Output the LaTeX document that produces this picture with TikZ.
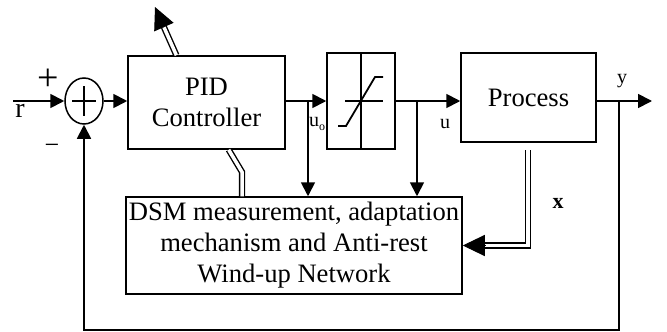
\documentclass[tikz,border=0pt]{standalone}
\usepackage{fontspec}
\setmainfont{Liberation Serif}
\usetikzlibrary{arrows.meta,shapes.geometric,calc}
\begin{document}
\begin{tikzpicture}[x=1pt,y=-1pt,
  blk/.style={draw, line width=1.5pt, inner sep=0pt, align=center, font=\fontsize{26.6}{31}\selectfont},
  sig/.style={line width=1.8pt},
  arr/.style={sig, -{Triangle[length=14pt,width=14pt]}},
  dbl/.style={double, double distance=3.5pt, line width=1.4pt},
  bighead/.style={line width=1pt, -{Triangle[length=22pt,width=21pt]}},
  lbl/.style={inner sep=0pt, font=\fontsize{20}{20}\selectfont}]
\useasboundingbox (0,0) rectangle (667,332);
% blocks
\node[blk, ellipse, minimum width=38pt, minimum height=46pt] (sum) at (84,101) {};
\node[blk, minimum width=157pt, minimum height=93pt] (pid) at (206.5,102.5) {PID\\Controller};
\node[blk, minimum width=68pt, minimum height=96pt] (sat) at (361,101) {};
\node[blk, minimum width=135pt, minimum height=89pt] (proc) at (528.5,97.5) {Process};
\node[blk, minimum width=336pt, minimum height=97pt] (dsm) at (294,245.5) {DSM measurement, adaptation\\mechanism and Anti-rest\\Wind-up Network};
% sum symbol
\draw[sig] ($(sum.center)+(-12,0)$) -- ($(sum.center)+(12,0)$);
\draw[sig] ($(sum.center)+(0,-15)$) -- ($(sum.center)+(0,15)$);
% saturation symbol
\draw[line width=1.5pt] (sat.north) -- (sat.south);
\draw[line width=1.5pt] ($(sat.center)+(-16,0)$) -- ($(sat.center)+(22,0)$);
\draw[line width=1.8pt] ($(sat.center)+(-23,25)$) -- ($(sat.center)+(-15,25)$) -- ($(sat.center)+(14,-24)$) -- ($(sat.center)+(22,-24)$);
% coordinates
\coordinate (rin) at (13,101);
\coordinate (b1) at (308,101);
\coordinate (b2) at (417,101);
\coordinate (b3) at (619,101);
\coordinate (yout) at (652,101);
\coordinate (fbr) at (619,330);
\coordinate (fbl) at (84,330);
% signal connectors
\draw[arr] (rin) -- (sum.west);
\draw[arr] (sum.east) -- (pid.west |- sum.east);
\draw[arr] (pid.east |- sat.west) -- (sat.west);
\draw[arr] (b1) -- (b1 |- dsm.north);
\draw[arr] (sat.east) -- (proc.west |- sat.east);
\draw[arr] (b2) -- (b2 |- dsm.north);
\draw[arr] (proc.east |- yout) -- (yout);
\draw[arr] (b3) -- (fbr) -- (fbl) -- (sum.south);
% double-line connectors
\coordinate (pidtop) at ($(pid.north west)!0.31!(pid.north east)$);
\coordinate (tipT) at (155,7);
\coordinate (baseT) at ($(tipT)!22pt!(pidtop)$);
\draw[dbl] (pidtop) -- (baseT);
\draw[bighead] (baseT) -- (tipT);
\coordinate (pidbot) at ($(pid.south west)!0.64!(pid.south east)$);
\coordinate (kink) at (242,172);
\draw[dbl] (pidbot) -- (kink) -- (kink |- dsm.north);
\coordinate (pbot) at (528,150);
\coordinate (pcorner) at (528,245.5);
\coordinate (xbase) at ($(dsm.east)+(22,0)$);
\draw[dbl] (pbot) -- (pcorner) -- (xbase);
\draw[bighead] (xbase) -- (dsm.east);
% labels
\node[inner sep=0pt, font=\fontsize{38}{38}\selectfont] (plus) at (48,80) {+};
\node[inner sep=0pt, font=\fontsize{26}{26}\selectfont] (minus) at (52,149) {−};
\node[inner sep=0pt, font=\fontsize{28}{28}\selectfont] (rlab) at (20,111) {r};
\node[lbl] (uo) at (317,124) {u\raisebox{-4pt}{\fontsize{12}{12}\selectfont o}};
\node[lbl] (ulab) at (445,124) {u};
\node[lbl] (ylab) at (622,81) {y};
\node[inner sep=0pt, font=\fontsize{22}{22}\selectfont\bfseries] (xlab) at (558,203) {x};
\end{tikzpicture}
\end{document}
